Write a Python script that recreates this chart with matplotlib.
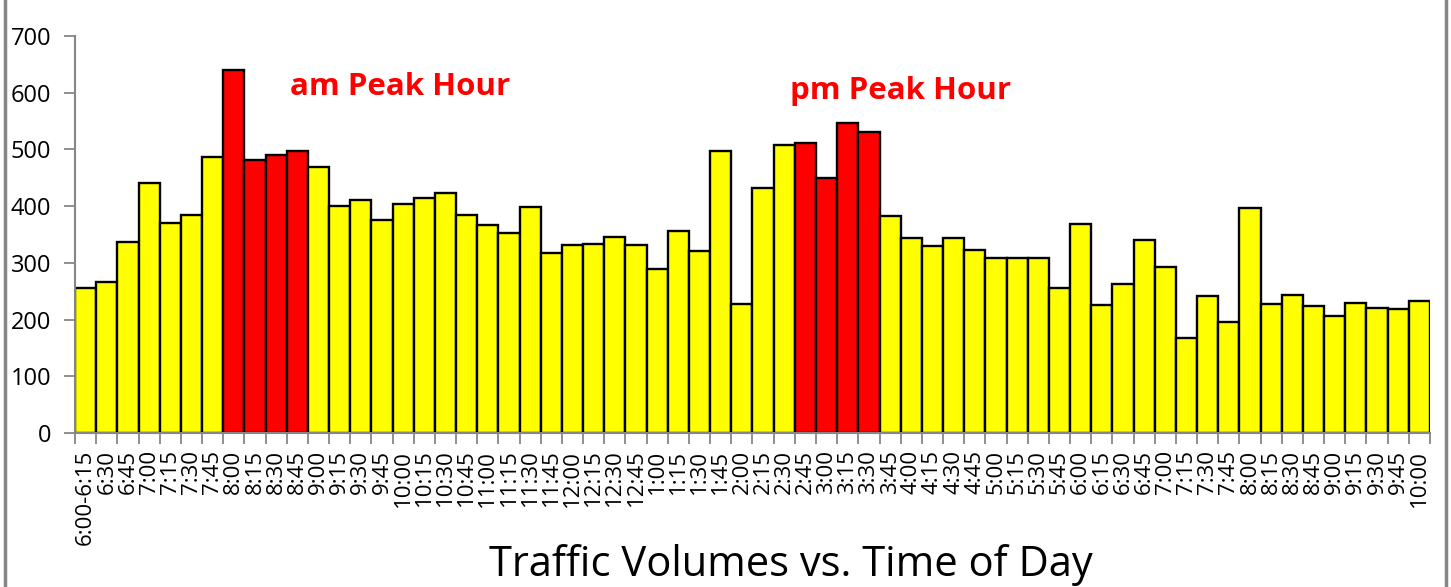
import matplotlib.pyplot as plt
from matplotlib.lines import Line2D

# time slots (x axis)
times = ["6:00-6:15", "6:30", "6:45", "7:00", "7:15", "7:30", "7:45",
         "8:00", "8:15", "8:30", "8:45", "9:00", "9:15", "9:30", "9:45",
         "10:00", "10:15", "10:30", "10:45", "11:00", "11:15", "11:30", "11:45",
         "12:00", "12:15", "12:30", "12:45", "1:00", "1:15", "1:30", "1:45",
         "2:00", "2:15", "2:30", "2:45", "3:00", "3:15", "3:30", "3:45",
         "4:00", "4:15", "4:30", "4:45", "5:00", "5:15", "5:30", "5:45",
         "6:00", "6:15", "6:30", "6:45", "7:00", "7:15", "7:30", "7:45",
         "8:00", "8:15", "8:30", "8:45", "9:00", "9:15", "9:30", "9:45", "10:00"]

volumes = [255, 266, 337, 441, 370, 385, 487,
           640, 481, 490, 497, 469, 400, 411, 375,
           404, 414, 423, 384, 367, 352, 399, 318,
           332, 333, 346, 332, 290, 357, 320, 497,
           228, 432, 507, 512, 450, 547, 530, 383,
           344, 330, 344, 322, 308, 309, 309, 255,
           369, 225, 263, 340, 292, 168, 242, 195,
           397, 228, 243, 224, 206, 230, 220, 218, 232]

# peak hour slots (by position)
am_peak = [7, 8, 9, 10]
pm_peak = [34, 35, 36, 37]

plt.rcParams['font.family'] = ['Open Sans', 'DejaVu Sans']

fig = plt.figure(figsize=(14.51, 5.87), dpi=100)
ax = fig.add_axes([0.0517, 0.2624, 0.9338, 0.6763])

colors = []
for i in range(len(times)):
  if i in am_peak or i in pm_peak:
    colors.append("#ff0000")
  else:
    colors.append("#ffff00")

x = list(range(len(times)))
ax.bar(x, volumes, width=1.0, color=colors, edgecolor="black", linewidth=1.7)

ax.set_xlim(-0.5, len(times) - 0.5)
ax.set_ylim(0, 700)
ax.set_yticks(range(0, 701, 100))
ax.tick_params(axis="y", labelsize=17, length=8, width=1.3, color="#868686", pad=9)

ax.set_xticks(x)
ax.set_xticklabels(times, rotation=90, fontsize=16)
ax.set_xticks([i - 0.5 for i in range(len(times) + 1)], minor=True)
ax.tick_params(axis="x", which="major", length=0, pad=12)
ax.tick_params(axis="x", which="minor", length=8, width=1.3, color="#868686")

for side in ["top", "right"]:
  ax.spines[side].set_visible(False)
for side in ["left", "bottom"]:
  ax.spines[side].set_color("#868686")
  ax.spines[side].set_linewidth(1.5)

ax.text(9.66, 610, "am Peak Hour", color="#ff0000", fontsize=22.5,
        fontweight="bold", ha="left", va="center")
ax.text(33.27, 603, "pm Peak Hour", color="#ff0000", fontsize=22.5,
        fontweight="bold", ha="left", va="center")

fig.text(0.545, 0.037, "Traffic Volumes vs. Time of Day", fontsize=30,
         ha="center", va="center")

# chart frame
fig.add_artist(Line2D([0.0035, 0.0035], [0, 1], color="#868686", linewidth=2.5))
fig.add_artist(Line2D([0.9965, 0.9965], [0, 1], color="#868686", linewidth=2.5))

fig.savefig("out.png", dpi=100)
